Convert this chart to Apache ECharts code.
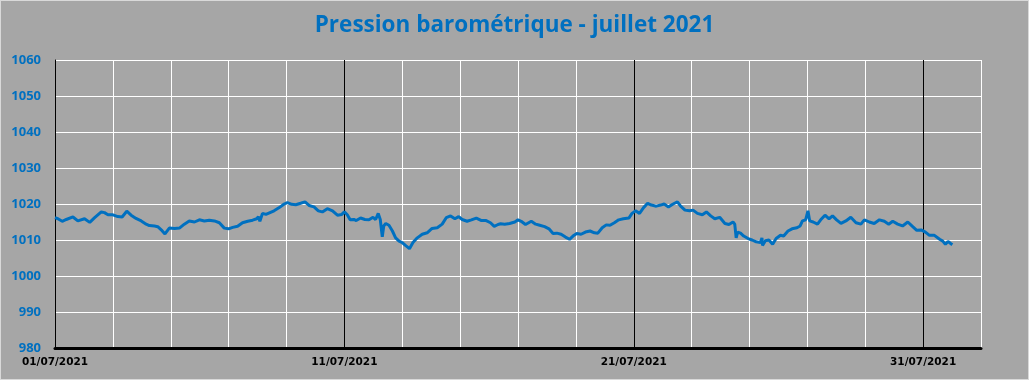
<!DOCTYPE html>
<html>
<head>
<meta charset="utf-8">
<script src="https://cdn.jsdelivr.net/npm/echarts@6/dist/echarts.min.js"></script>
<style>
html,body{margin:0;padding:0;background:#a6a6a6;}
#chart{width:1029px;height:380px;box-sizing:border-box;border:1px solid #d9d9d9;}
</style>
</head>
<body>
<div id="chart"></div>
<script>
// Days elapsed since 01/07/2021 00:00
const dayOffsets = [
0,0.10,0.25,0.39,0.62,0.79,1.02,1.20,1.37,1.60,1.71,1.83,2.00,2.17,2.32,2.48,2.63,2.80,2.98,3.15,3.26,3.44,3.55,3.70,3.80,3.95,4.13,4.30,4.47,4.64,4.82,4.99,
5.16,5.33,5.51,5.68,5.85,6.00,6.14,6.31,6.48,6.66,6.83,6.97,7.03,7.08,7.17,7.29,7.43,7.57,7.75,7.92,8.03,8.18,8.32,8.49,8.64,8.78,8.95,9.10,9.24,9.41,9.59,9.76,9.91,10.00,10.10,
10.20,10.25,10.33,10.41,10.56,10.71,10.85,10.99,11.08,11.17,11.24,11.31,11.36,11.43,11.54,11.66,11.77,11.89,12.00,12.11,12.25,12.37,12.52,12.69,12.86,13.03,13.21,13.38,13.52,13.67,13.82,13.95,14.07,14.24,14.39,14.56,14.74,14.90,15.05,15.18,15.31,15.40,
15.54,15.71,15.89,16.00,16.11,16.26,16.46,16.61,16.75,16.92,17.07,17.21,17.34,17.49,17.64,17.78,17.90,18.03,18.18,18.33,18.49,18.64,18.76,18.91,19.05,19.18,19.33,19.48,19.64,19.83,19.94,20.06,20.20,20.34,20.48,
20.61,20.78,20.93,21.05,21.20,21.36,21.51,21.62,21.77,21.93,22.05,22.20,22.37,22.51,22.66,22.80,22.97,23.15,23.29,23.43,23.49,23.54,23.59,23.69,23.80,23.95,24.09,24.23,24.38,24.43,24.45,24.55,24.67,24.80,24.92,25.07,25.18,25.33,25.47,25.64,25.75,
25.83,25.94,26.02,26.08,26.20,26.35,26.46,26.61,26.75,26.87,27.01,27.16,27.33,27.50,27.68,27.85,27.97,28.14,28.31,28.49,28.66,28.81,28.95,29.12,29.29,29.47,29.64,29.78,29.93,30.08,30.22,30.39,30.57,30.68,30.77,30.86,30.94,31.01
];
// Pressure (hPa)
const pressure = [
1016.2,1015.9,1015.2,1015.7,1016.4,1015.3,1015.9,1014.9,1016.2,1017.8,1017.6,1017.0,1017.0,1016.5,1016.4,1018.0,1016.9,1016.0,1015.3,1014.4,1014.0,1013.9,1013.7,1012.6,1011.7,1013.3,1013.2,1013.3,1014.4,1015.3,1015.0,1015.6,
1015.3,1015.5,1015.3,1014.8,1013.3,1013.1,1013.5,1013.8,1014.8,1015.2,1015.5,1015.9,1016.5,1015.2,1017.4,1017.1,1017.6,1018.1,1019.0,1020.0,1020.4,1019.9,1019.8,1020.2,1020.6,1019.6,1019.2,1018.1,1017.8,1018.7,1018.1,1016.9,1017.1,1017.8,1017.0,
1015.6,1015.3,1015.7,1015.4,1016.1,1015.7,1015.6,1016.3,1015.7,1017.4,1015.7,1010.9,1013.9,1014.6,1014.1,1012.5,1010.6,1009.7,1009.3,1008.5,1007.6,1009.3,1010.6,1011.6,1012.0,1013.2,1013.4,1014.4,1016.2,1016.7,1015.9,1016.5,1015.7,1015.2,1015.6,1016.1,1015.4,1015.4,1014.8,1013.8,1014.3,1014.5,
1014.4,1014.6,1015.0,1015.6,1015.2,1014.3,1015.2,1014.4,1014.1,1013.7,1013.1,1011.8,1011.9,1011.6,1010.8,1010.2,1011.1,1011.8,1011.6,1012.2,1012.5,1012.0,1011.9,1013.4,1014.2,1014.1,1014.8,1015.6,1015.9,1016.1,1017.4,1018.1,1017.4,1019.0,1020.2,
1019.7,1019.4,1019.7,1020.0,1019.2,1020.0,1020.6,1019.4,1018.3,1018.1,1018.3,1017.4,1017.0,1017.8,1016.7,1015.9,1016.3,1014.6,1014.3,1015.0,1014.4,1010.6,1012.2,1011.9,1011.1,1010.4,1010.0,1009.5,1009.3,1010.6,1008.5,1009.8,1010.0,1008.8,1010.4,1011.3,1011.1,1012.5,1013.1,1013.4,1013.9,
1015.3,1015.6,1018.1,1015.3,1015.0,1014.4,1015.6,1016.9,1015.9,1016.7,1015.6,1014.6,1015.3,1016.3,1014.8,1014.4,1015.6,1015.0,1014.6,1015.6,1015.2,1014.4,1015.2,1014.4,1013.9,1015.0,1013.7,1012.7,1012.8,1012.2,1011.3,1011.3,1010.2,1009.7,1008.8,1009.6,1009.1,1008.7
];
const titleText = 'Pression barométrique - juillet 2021';
const startDate = Date.UTC(2021, 6, 1);
const labelEveryDays = 10;

function fmtDay(d) {
  if (Math.abs(d % labelEveryDays) > 1e-6) return '';
  const dt = new Date(startDate + d * 86400000);
  const dd = String(dt.getUTCDate()).padStart(2, '0');
  const mm = String(dt.getUTCMonth() + 1).padStart(2, '0');
  return dd + '/' + mm + '/' + dt.getUTCFullYear();
}

const chart = echarts.init(document.getElementById('chart'));
chart.setOption({
  backgroundColor: '#a6a6a6',
  animation: false,
  title: {
    text: titleText,
    left: 'center',
    top: 8,
    textStyle: { fontFamily: 'Open Sans', fontWeight: 'bold', fontSize: 22.5, color: '#0070c0' }
  },
  grid: { left: 54, right: 47, top: 59, height: 288, outerBoundsMode: 'none', containLabel: false },
  xAxis: {
    type: 'value',
    min: 0, max: 32, interval: 2,
    axisLine: { show: true, onZero: false, lineStyle: { color: '#000', width: 3 } },
    axisTick: { show: false },
    axisLabel: {
      formatter: fmtDay, margin: 9, showMinLabel: true,
      fontFamily: 'DejaVu Sans', fontWeight: 'bold', fontSize: 10.5, color: '#000'
    },
    splitLine: { show: true, lineStyle: { color: ['#000', '#fff', '#fff', '#fff', '#fff'], width: 1 } }
  },
  yAxis: {
    type: 'value',
    min: 980, max: 1060, interval: 10,
    axisLine: { show: true, lineStyle: { color: '#000', width: 1 } },
    axisTick: { show: false },
    axisLabel: {
      formatter: v => String(v),
      margin: 14, fontFamily: 'Open Sans', fontWeight: 'bold', fontSize: 13, color: '#0070c0'
    },
    splitLine: { show: true, lineStyle: { color: '#fff', width: 1 } }
  },
  series: [{
    type: 'line',
    data: dayOffsets.map((d, i) => [d, pressure[i]]),
    showSymbol: false,
    symbol: 'none',
    lineStyle: { color: '#0070c0', width: 3 },
    z: 5
  }]
});
</script>
</body>
</html>
